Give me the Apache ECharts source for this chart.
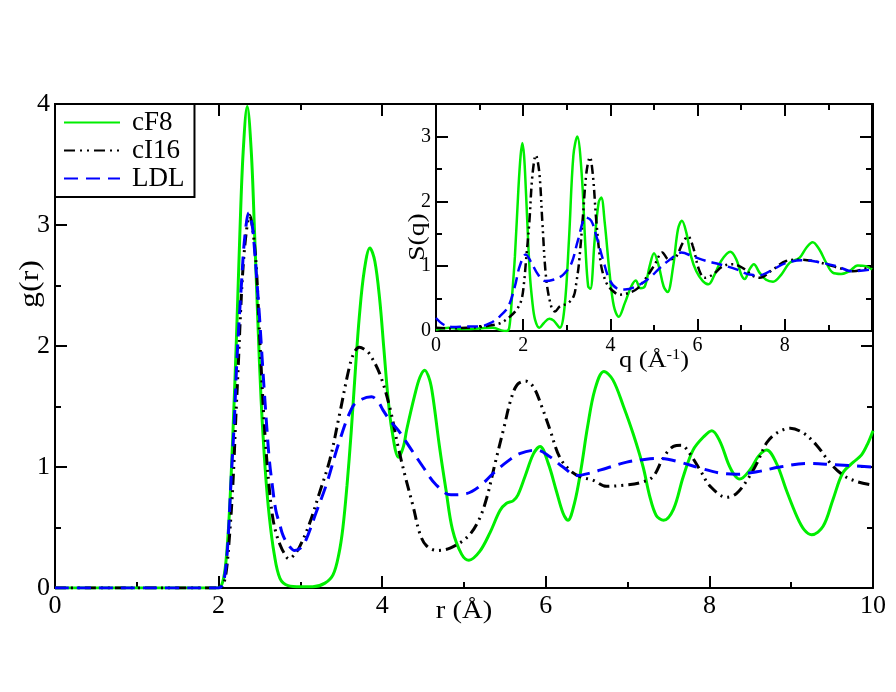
<!DOCTYPE html>
<html>
<head>
<meta charset="utf-8">
<script src="https://cdn.jsdelivr.net/npm/echarts@6/dist/echarts.min.js"></script>
<style>
html,body{margin:0;padding:0;background:#fff;}
#c{width:896px;height:692px;}
</style>
</head>
<body>
<div id="c"></div>
<script>
// ---- Main panel g(r): [r (Å), g(r)] ----
const gr_cF8 = [[0,0],[1.9,0],[2.0,0],[2.05,0.05],[2.09,0.22],[2.13,0.6],[2.175,1.28],[2.22,2.1],[2.26,2.93],[2.3,3.6],[2.35,3.98],[2.40,3.6],[2.44,2.93],[2.48,2.2],[2.52,1.55],[2.57,0.98],[2.62,0.59],[2.68,0.28],[2.75,0.08],[2.85,0.02],[3.0,0.01],[3.15,0.01],[3.3,0.04],[3.4,0.11],[3.47,0.28],[3.52,0.5],[3.57,0.85],[3.62,1.28],[3.67,1.78],[3.72,2.24],[3.78,2.62],[3.85,2.81],[3.91,2.7],[3.97,2.38],[4.02,1.98],[4.07,1.58],[4.12,1.3],[4.2,1.08],[4.26,1.17],[4.3,1.31],[4.4,1.6],[4.46,1.74],[4.52,1.80],[4.58,1.72],[4.62,1.58],[4.7,1.17],[4.78,0.81],[4.86,0.48],[4.97,0.28],[5.06,0.23],[5.19,0.3],[5.32,0.46],[5.44,0.64],[5.52,0.7],[5.6,0.72],[5.66,0.77],[5.75,0.93],[5.85,1.11],[5.93,1.17],[6.03,1.03],[6.13,0.8],[6.21,0.62],[6.27,0.56],[6.35,0.70],[6.43,0.98],[6.51,1.33],[6.6,1.64],[6.71,1.79],[6.82,1.72],[6.95,1.5],[7.07,1.27],[7.19,1.0],[7.27,0.76],[7.35,0.6],[7.44,0.56],[7.56,0.65],[7.68,0.92],[7.80,1.14],[7.93,1.25],[8.03,1.30],[8.13,1.21],[8.23,1.03],[8.3,0.94],[8.37,0.90],[8.5,0.98],[8.6,1.09],[8.70,1.14],[8.82,1.03],[8.94,0.81],[9.07,0.59],[9.16,0.48],[9.25,0.44],[9.39,0.51],[9.51,0.73],[9.63,0.95],[9.76,1.04],[9.86,1.10],[9.94,1.20],[10.0,1.30]];

const gr_cI16 = [[0,0],[2.0,0],[2.05,0.02],[2.09,0.12],[2.13,0.4],[2.175,0.86],[2.21,1.4],[2.24,1.83],[2.27,2.3],[2.3,2.66],[2.34,2.95],[2.38,3.08],[2.42,2.95],[2.46,2.66],[2.49,2.25],[2.52,1.83],[2.55,1.45],[2.58,1.14],[2.62,0.82],[2.66,0.59],[2.7,0.46],[2.75,0.36],[2.8,0.29],[2.86,0.24],[2.92,0.27],[2.99,0.34],[3.11,0.53],[3.23,0.78],[3.36,1.06],[3.48,1.44],[3.60,1.83],[3.66,1.95],[3.72,1.99],[3.79,1.97],[3.85,1.93],[3.97,1.77],[4.09,1.50],[4.2,1.15],[4.29,0.9],[4.38,0.67],[4.46,0.45],[4.54,0.35],[4.67,0.31],[4.83,0.33],[5.04,0.42],[5.18,0.56],[5.28,0.75],[5.38,1.03],[5.49,1.33],[5.57,1.55],[5.65,1.68],[5.75,1.71],[5.85,1.66],[5.95,1.50],[6.05,1.31],[6.17,1.08],[6.3,0.97],[6.42,0.92],[6.58,0.89],[6.74,0.84],[6.95,0.85],[7.15,0.87],[7.31,0.92],[7.44,1.08],[7.56,1.17],[7.66,1.18],[7.76,1.11],[7.89,0.97],[8.01,0.84],[8.21,0.75],[8.33,0.78],[8.46,0.89],[8.58,1.03],[8.70,1.20],[8.82,1.28],[8.99,1.32],[9.15,1.28],[9.31,1.18],[9.48,1.03],[9.64,0.93],[9.80,0.88],[10.0,0.85]];

const gr_LDL = [[0,0],[2.0,0],[2.05,0.03],[2.09,0.18],[2.12,0.45],[2.15,0.86],[2.19,1.35],[2.22,1.83],[2.25,2.2],[2.28,2.52],[2.32,2.9],[2.37,3.10],[2.41,3.0],[2.44,2.79],[2.47,2.52],[2.50,2.24],[2.53,1.92],[2.56,1.61],[2.59,1.32],[2.62,1.06],[2.66,0.83],[2.70,0.64],[2.75,0.52],[2.79,0.43],[2.86,0.35],[2.93,0.31],[3.0,0.33],[3.07,0.40],[3.19,0.62],[3.32,0.86],[3.48,1.22],[3.64,1.50],[3.75,1.56],[3.87,1.58],[3.95,1.54],[4.01,1.47],[4.1,1.38],[4.2,1.30],[4.35,1.15],[4.5,1.0],[4.65,0.86],[4.84,0.77],[5.03,0.78],[5.19,0.84],[5.36,0.95],[5.52,1.04],[5.68,1.11],[5.89,1.14],[6.05,1.085],[6.21,1.0],[6.38,0.93],[6.54,0.95],[6.74,0.99],[6.99,1.04],[7.23,1.065],[7.40,1.07],[7.64,1.04],[7.89,0.99],[8.13,0.95],[8.33,0.94],[8.58,0.96],[8.86,1.0],[9.19,1.03],[9.51,1.02],[10.0,1.0]];

// ---- Inset S(q): [q (1/Å), S(q)] ----
const sq_cF8 = [[0,0.02],[0.3,0.05],[0.6,0.03],[1.0,0.04],[1.3,0.05],[1.5,0.01],[1.62,0.0],[1.68,0.05],[1.74,0.5],[1.81,1.15],[1.89,2.19],[1.94,2.7],[1.98,2.9],[2.02,2.7],[2.06,2.19],[2.15,0.9],[2.21,0.45],[2.27,0.18],[2.37,0.05],[2.47,0.12],[2.6,0.19],[2.7,0.16],[2.84,0.05],[2.95,0.38],[3.05,1.41],[3.15,2.7],[3.24,3.0],[3.34,2.44],[3.43,1.26],[3.49,0.69],[3.54,0.65],[3.64,1.41],[3.73,1.98],[3.79,2.06],[3.87,1.67],[3.98,0.9],[4.08,0.38],[4.19,0.22],[4.33,0.43],[4.48,0.69],[4.58,0.78],[4.69,0.66],[4.79,0.69],[4.90,1.0],[5.0,1.2],[5.11,1.0],[5.22,0.69],[5.31,0.6],[5.44,1.0],[5.55,1.57],[5.64,1.70],[5.74,1.52],[5.85,1.15],[5.97,0.92],[6.12,0.77],[6.25,0.72],[6.39,0.87],[6.54,1.08],[6.75,1.22],[6.89,1.1],[7.0,0.87],[7.08,0.8],[7.19,0.95],[7.29,1.03],[7.42,0.9],[7.57,0.79],[7.73,0.76],[7.92,0.87],[8.11,1.05],[8.34,1.13],[8.49,1.28],[8.64,1.37],[8.79,1.26],[8.95,1.05],[9.10,0.9],[9.29,0.88],[9.48,0.92],[9.67,1.01],[9.86,1.0],[10,0.95]];

const sq_cI16 = [[0,0.05],[0.3,0.04],[0.7,0.05],[1.0,0.06],[1.2,0.08],[1.47,0.12],[1.66,0.2],[1.85,0.33],[1.96,0.48],[2.02,0.75],[2.06,1.05],[2.14,1.67],[2.21,2.39],[2.29,2.71],[2.37,2.44],[2.44,1.67],[2.53,0.79],[2.65,0.36],[2.73,0.30],[2.84,0.38],[3.03,0.43],[3.16,0.54],[3.22,0.75],[3.28,1.05],[3.37,1.77],[3.45,2.44],[3.53,2.68],[3.60,2.39],[3.68,1.67],[3.79,1.0],[3.91,0.74],[4.02,0.64],[4.21,0.56],[4.44,0.59],[4.63,0.66],[4.82,0.82],[5.02,1.03],[5.19,1.21],[5.34,1.10],[5.51,1.15],[5.66,1.36],[5.78,1.46],[5.89,1.31],[6.03,0.95],[6.16,0.82],[6.35,0.87],[6.58,1.0],[6.81,1.03],[7.04,0.97],[7.27,0.85],[7.42,0.82],[7.73,0.95],[8.03,1.08],[8.34,1.10],[8.64,1.08],[8.95,1.03],[9.25,0.97],[9.56,0.92],[10,1.0]];

const sq_LDL = [[0,0.2],[0.17,0.1],[0.4,0.06],[0.7,0.07],[1.0,0.07],[1.24,0.12],[1.47,0.23],[1.66,0.38],[1.81,0.69],[1.92,1.0],[2.06,1.18],[2.19,1.05],[2.34,0.87],[2.5,0.77],[2.69,0.79],[2.92,0.87],[3.11,1.05],[3.26,1.41],[3.44,1.75],[3.56,1.70],[3.68,1.46],[3.83,1.10],[3.98,0.79],[4.14,0.66],[4.33,0.64],[4.6,0.69],[4.9,0.82],[5.13,0.97],[5.36,1.10],[5.63,1.21],[5.89,1.15],[6.2,1.08],[6.5,1.03],[6.89,0.95],[7.19,0.87],[7.42,0.86],[7.73,0.95],[8.03,1.05],[8.41,1.09],[8.79,1.06],[9.18,1.0],[9.56,0.92],[10,0.95]];

const seriesNames = ['cF8', 'cI16', 'LDL'];
const mainX = {min: 0, max: 10, interval: 2};
const mainY = {min: 0, max: 4, interval: 1};
const insetX = {min: 0, max: 10, interval: 2};
const insetY = {min: 0, max: 3.5};

const FONT = '"Liberation Serif", "Times New Roman", serif';
const GREEN = '#00ee00', BLACK = '#000000', BLUE = '#0000ff';

function xAx(grid, pos, range, labels, fs, z) {
  return {
    type: 'value', gridIndex: grid, position: pos, min: range.min, max: range.max, interval: range.interval, z: z,
    axisLine: {show: true, onZero: false, lineStyle: {color: '#000', width: 2}},
    axisTick: {show: true, inside: true, length: 12, lineStyle: {color: '#000', width: 2}},
    minorTick: {show: true, splitNumber: 2, length: 6, lineStyle: {color: '#000', width: 2}},
    splitLine: {show: false}, minorSplitLine: {show: false},
    axisLabel: {show: labels, color: '#000', fontSize: fs, fontFamily: FONT, margin: 5, showMaxLabel: grid === 0}
  };
}
function yAx(grid, pos, range, labels, fs, z, interval, tickLen, minor, fmt) {
  return {
    type: 'value', gridIndex: grid, position: pos, min: range.min, max: range.max, interval: interval, z: z,
    axisLine: {show: true, onZero: false, lineStyle: {color: '#000', width: 2}},
    axisTick: {show: true, inside: true, length: tickLen, lineStyle: {color: '#000', width: 2}},
    minorTick: {show: minor, splitNumber: 2, length: 6, lineStyle: {color: '#000', width: 2}},
    splitLine: {show: false}, minorSplitLine: {show: false},
    axisLabel: {show: labels, color: '#000', fontSize: fs, fontFamily: FONT, margin: 5, formatter: fmt}
  };
}
const intFmt = v => (Math.abs(v - Math.round(v)) < 1e-6 && v < 3.4) ? String(Math.round(v)) : '';

const chart = echarts.init(document.getElementById('c'), null, {renderer: 'canvas'});
chart.setOption({
  backgroundColor: '#ffffff',
  animation: false,
  grid: [
    {left: 55, top: 104, width: 818, height: 484, show: false, z: 0},
    {left: 436, top: 104, width: 436, height: 227, show: true, backgroundColor: '#ffffff', borderWidth: 0, z: 6}
  ],
  xAxis: [
    xAx(0, 'bottom', mainX, true, 26, 1),
    xAx(0, 'top', mainX, false, 26, 1),
    xAx(1, 'bottom', insetX, true, 20, 8),
    xAx(1, 'top', insetX, false, 20, 8)
  ],
  yAxis: [
    yAx(0, 'left', mainY, true, 26, 1, 1, 12, true),
    yAx(0, 'right', mainY, false, 26, 1, 1, 12, true),
    yAx(1, 'left', insetY, true, 20, 8, 0.5, 6, false, intFmt),
    yAx(1, 'left', insetY, false, 20, 8, 1, 12, false),
    yAx(1, 'right', insetY, false, 20, 8, 0.5, 6, false),
    yAx(1, 'right', insetY, false, 20, 8, 1, 12, false)
  ],
  legend: {
    left: 55, top: 104, orient: 'vertical', z: 10,
    backgroundColor: '#fff', borderColor: '#000', borderWidth: 2, borderRadius: 0,
    padding: [5, 10, 5, 8], itemGap: 1, itemWidth: 56, itemHeight: 14,
    itemStyle: {color: 'rgba(0,0,0,0)', borderColor: 'rgba(0,0,0,0)', borderWidth: 0, opacity: 0},
    textStyle: {fontSize: 27, fontFamily: FONT, color: '#000', padding: [0, 0, 0, 7]},
    data: seriesNames
  },
  series: [
    {name: seriesNames[0], type: 'line', xAxisIndex: 0, yAxisIndex: 0, data: gr_cF8, showSymbol: false, symbol: 'none', smooth: 0.35, z: 2,
     lineStyle: {color: GREEN, width: 3, type: 'solid'}, itemStyle: {color: GREEN}},
    {name: seriesNames[1], type: 'line', xAxisIndex: 0, yAxisIndex: 0, data: gr_cI16, showSymbol: false, symbol: 'none', smooth: 0.35, z: 3,
     lineStyle: {color: BLACK, width: 3, type: [11, 5, 2, 5, 2, 5]}, itemStyle: {color: BLACK}},
    {name: seriesNames[2], type: 'line', xAxisIndex: 0, yAxisIndex: 0, data: gr_LDL, showSymbol: false, symbol: 'none', smooth: 0.35, z: 4,
     lineStyle: {color: BLUE, width: 3, type: [14, 8]}, itemStyle: {color: BLUE}},
    {name: 'S_' + seriesNames[0], type: 'line', xAxisIndex: 2, yAxisIndex: 2, data: sq_cF8, showSymbol: false, symbol: 'none', smooth: 0.35, z: 9,
     lineStyle: {color: GREEN, width: 2.5}},
    {name: 'S_' + seriesNames[1], type: 'line', xAxisIndex: 2, yAxisIndex: 2, data: sq_cI16, showSymbol: false, symbol: 'none', smooth: 0.35, z: 10,
     lineStyle: {color: BLACK, width: 2.5, type: [9, 4, 2, 4, 2, 4]}},
    {name: 'S_' + seriesNames[2], type: 'line', xAxisIndex: 2, yAxisIndex: 2, data: sq_LDL, showSymbol: false, symbol: 'none', smooth: 0.35, z: 11,
     lineStyle: {color: BLUE, width: 2.5, type: [11, 6]}}
  ],
  graphic: [
    {type: 'text', x: 31, y: 284, rotation: Math.PI / 2, scaleX: 1.18, z: 20,
     style: {text: 'g(r)', fontSize: 27, fontFamily: FONT, fill: '#000', align: 'center', verticalAlign: 'middle'}},
    {type: 'text', x: 464, y: 611, scaleX: 1.1, z: 20,
     style: {text: 'r (Å)', fontSize: 26, fontFamily: FONT, fill: '#000', align: 'center', verticalAlign: 'middle'}},
    {type: 'text', x: 418, y: 237, rotation: Math.PI / 2, scaleX: 1.15, z: 20,
     style: {text: 'S(q)', fontSize: 24, fontFamily: FONT, fill: '#000', align: 'center', verticalAlign: 'middle'}},
    {type: 'text', x: 654, y: 361, scaleX: 1.1, z: 20,
     style: {text: '{a|q (Å}{b|-1}{a|)}', fill: '#000', align: 'center', verticalAlign: 'middle',
       rich: {a: {fontSize: 24, fontFamily: FONT, fill: '#000', lineHeight: 27},
              b: {fontSize: 15, fontFamily: FONT, fill: '#000', verticalAlign: 'top', lineHeight: 15}}}}
  ]
});
</script>
</body>
</html>
